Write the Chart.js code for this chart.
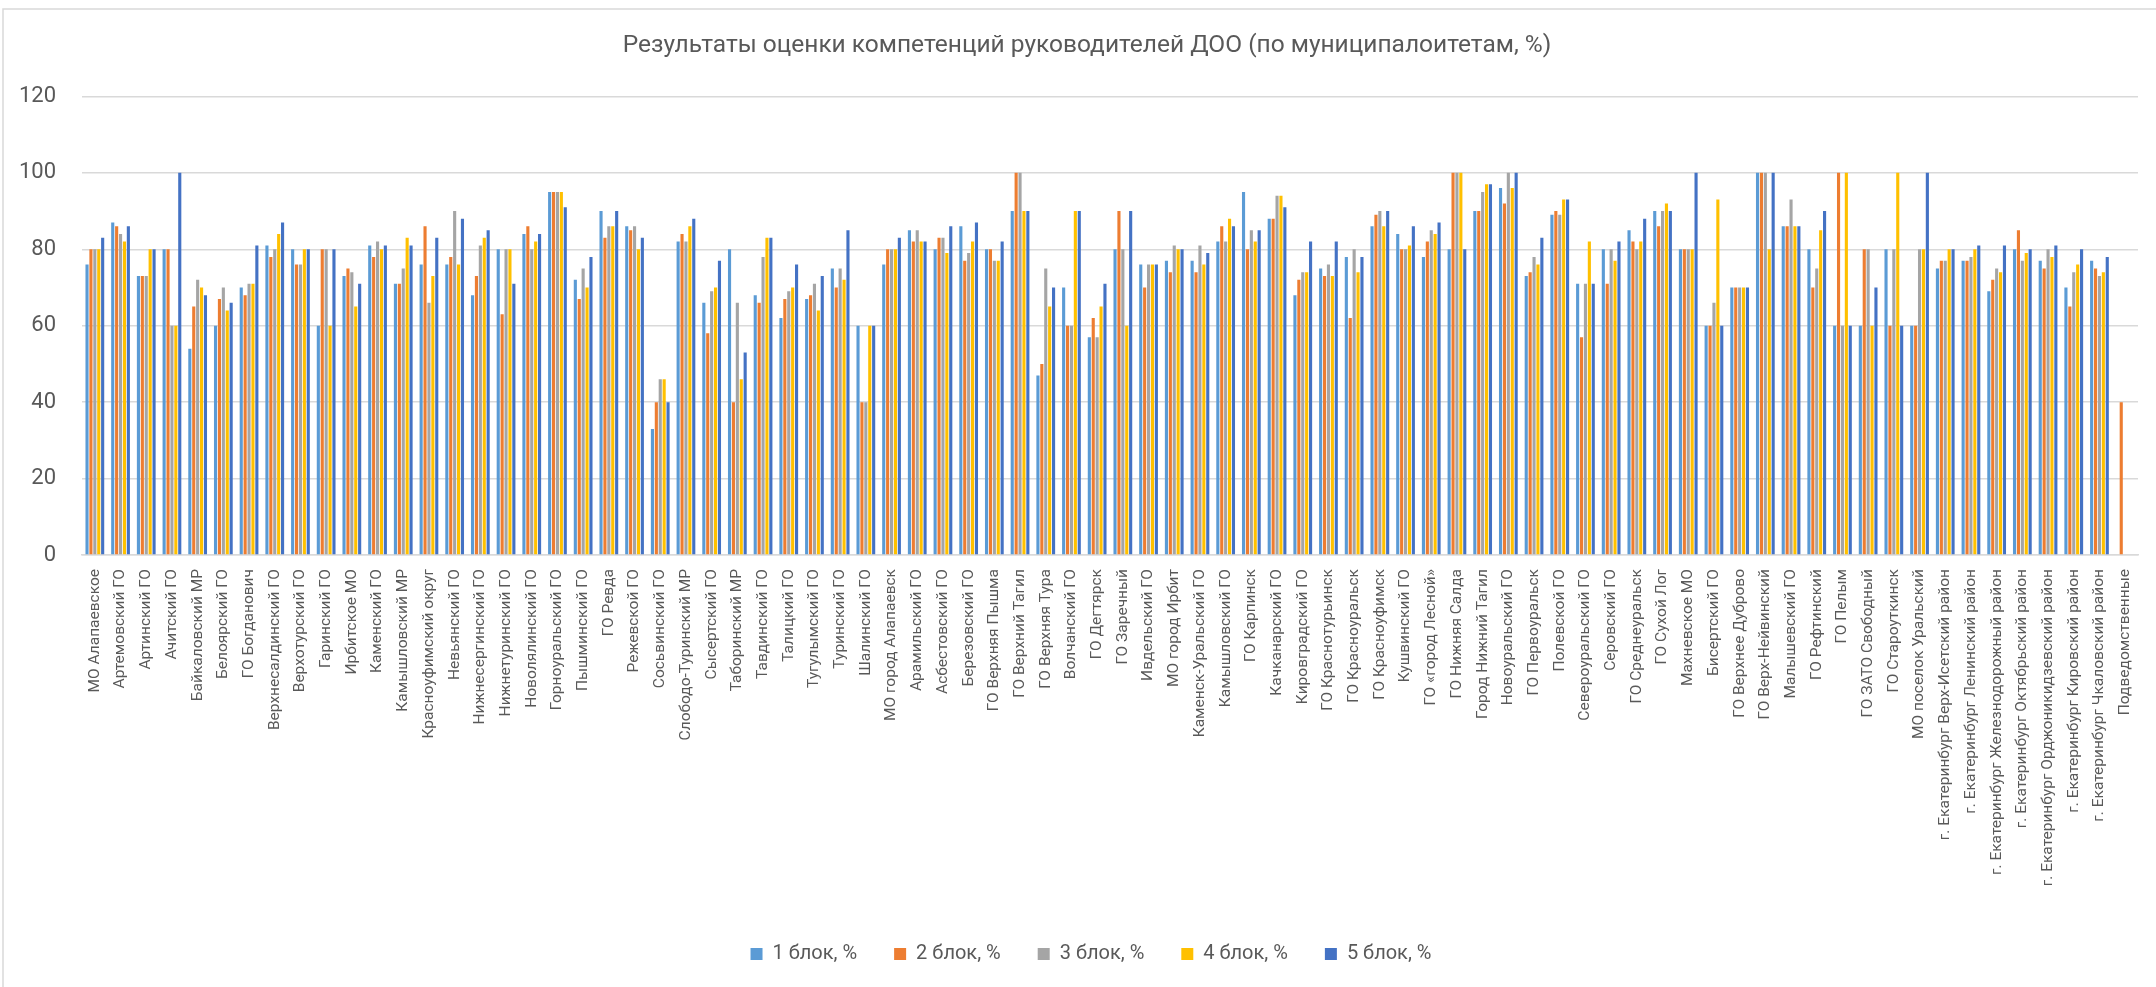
<!DOCTYPE html>
<html lang="ru">
<head>
<meta charset="utf-8">
<title>Результаты оценки компетенций руководителей ДОО</title>
<script src="https://cdn.jsdelivr.net/npm/chart.js@4.4.1/dist/chart.umd.min.js"></script>
<style>
    body { margin: 0; background: #fff; }
    #wrap { width: 2156px; height: 987px; }
</style>
</head>
<body>
<div id="wrap"><canvas id="chart" width="2156" height="987"></canvas></div>
<script>
// Муниципалитеты
const municipalities = [
    'МО Алапаевское', 'Артемовский ГО', 'Артинский ГО', 'Ачитский ГО', 'Байкаловский МР',
    'Белоярский ГО', 'ГО Богданович', 'Верхнесалдинский ГО', 'Верхотурский ГО', 'Гаринский ГО',
    'Ирбитское МО', 'Каменский ГО', 'Камышловский МР', 'Красноуфимский округ', 'Невьянский ГО',
    'Нижнесергинский ГО', 'Нижнетуринский ГО', 'Новолялинский ГО', 'Горноуральский ГО', 'Пышминский ГО',
    'ГО Ревда', 'Режевской ГО', 'Сосьвинский ГО', 'Слободо-Туринский МР', 'Сысертский ГО',
    'Таборинский МР', 'Тавдинский ГО', 'Талицкий ГО', 'Тугулымский ГО', 'Туринский ГО',
    'Шалинский ГО', 'МО город Алапаевск', 'Арамильский ГО', 'Асбестовский ГО', 'Березовский ГО',
    'ГО Верхняя Пышма', 'ГО Верхний Тагил', 'ГО Верхняя Тура', 'Волчанский ГО', 'ГО Дегтярск',
    'ГО Заречный', 'Ивдельский ГО', 'МО город Ирбит', 'Каменск-Уральский ГО', 'Камышловский ГО',
    'ГО Карпинск', 'Качканарский ГО', 'Кировградский ГО', 'ГО Краснотурьинск', 'ГО Красноуральск',
    'ГО Красноуфимск', 'Кушвинский ГО', 'ГО «город Лесной»', 'ГО Нижняя Салда', 'Город Нижний Тагил',
    'Новоуральский ГО', 'ГО Первоуральск', 'Полевской ГО', 'Североуральский ГО', 'Серовский ГО',
    'ГО Среднеуральск', 'ГО Сухой Лог', 'Махневское МО', 'Бисертский ГО', 'ГО Верхнее Дуброво',
    'ГО Верх-Нейвинский', 'Малышевский ГО', 'ГО Рефтинский', 'ГО Пелым', 'ГО ЗАТО Свободный',
    'ГО Староуткинск', 'МО поселок Уральский', 'г. Екатеринбург Верх-Исетский район',
    'г. Екатеринбург Ленинский район', 'г. Екатеринбург Железнодорожный район',
    'г. Екатеринбург Октябрьский район', 'г. Екатеринбург Орджоникидзевский район',
    'г. Екатеринбург Кировский район', 'г. Екатеринбург Чкаловский район', 'Подведомственные'
];

// Значения по блокам, %
const block1 = [
    76, 87, 73, 80, 54, 60, 70, 81, 80, 60,
    73, 81, 71, 76, 76, 68, 80, 84, 95, 72,
    90, 86, 33, 82, 66, 80, 68, 62, 67, 75,
    60, 76, 85, 80, 86, 80, 90, 47, 70, 57,
    80, 76, 77, 77, 82, 95, 88, 68, 75, 78,
    86, 84, 78, 80, 90, 96, 73, 89, 71, 80,
    85, 90, 80, 60, 70, 100, 86, 80, 60, 60,
    80, 60, 75, 77, 69, 80, 77, 70, 77, null
];
const block2 = [
    80, 86, 73, 80, 65, 67, 68, 78, 76, 80,
    75, 78, 71, 86, 78, 73, 63, 86, 95, 67,
    83, 85, 40, 84, 58, 40, 66, 67, 68, 70,
    40, 80, 82, 83, 77, 80, 100, 50, 60, 62,
    90, 70, 74, 74, 86, 80, 88, 72, 73, 62,
    89, 80, 82, 100, 90, 92, 74, 90, 57, 71,
    82, 86, 80, 60, 70, 100, 86, 70, 100, 80,
    60, 60, 77, 77, 72, 85, 75, 65, 75, 40
];
const block3 = [
    80, 84, 73, 60, 72, 70, 71, 80, 76, 80,
    74, 82, 75, 66, 90, 81, 80, 80, 95, 75,
    86, 86, 46, 82, 69, 66, 78, 69, 71, 75,
    40, 80, 85, 83, 79, 77, 100, 75, 60, 57,
    80, 76, 81, 81, 82, 85, 94, 74, 76, 80,
    90, 80, 85, 100, 95, 100, 78, 89, 71, 80,
    80, 90, 80, 66, 70, 100, 93, 75, 60, 80,
    80, 80, 77, 78, 75, 77, 80, 74, 73, null
];
const block4 = [
    80, 82, 80, 60, 70, 64, 71, 84, 80, 60,
    65, 80, 83, 73, 76, 83, 80, 82, 95, 70,
    86, 80, 46, 86, 70, 46, 83, 70, 64, 72,
    60, 80, 82, 79, 82, 77, 90, 65, 90, 65,
    60, 76, 80, 76, 88, 82, 94, 74, 73, 74,
    86, 81, 84, 100, 97, 96, 76, 93, 82, 77,
    82, 92, 80, 93, 70, 80, 86, 85, 100, 60,
    100, 80, 80, 80, 74, 79, 78, 76, 74, null
];
const block5 = [
    83, 86, 80, 100, 68, 66, 81, 87, 80, 80,
    71, 81, 81, 83, 88, 85, 71, 84, 91, 78,
    90, 83, 40, 88, 77, 53, 83, 76, 73, 85,
    60, 83, 82, 86, 87, 82, 90, 70, 90, 71,
    90, 76, 80, 79, 86, 85, 91, 82, 82, 78,
    90, 86, 87, 80, 97, 100, 83, 93, 71, 82,
    88, 90, 100, 60, 70, 100, 86, 90, 60, 70,
    60, 100, 80, 81, 81, 80, 81, 80, 78, null
];

const seriesNames = ['1 блок, %', '2 блок, %', '3 блок, %', '4 блок, %', '5 блок, %'];
const seriesColors = ['#5B9BD5', '#ED7D31', '#A5A5A5', '#FFC000', '#4472C4'];
const yTicks = [0, 20, 40, 60, 80, 100, 120];

const FONT = 'Roboto, "Noto Sans", sans-serif';
const TEXT_COLOR = '#595959';

// Рамка области диаграммы (левая и верхняя границы)
const framePlugin = {
    id: 'frame',
    afterLayout(chart) {
        // заголовок и легенда в оригинале чуть смещены вправо
        if (chart.titleBlock) chart.titleBlock.left += 28;
        if (chart.legend) chart.legend.left += 36;
    },
    beforeDraw(chart) {
        const c = chart.ctx;
        c.save();
        c.fillStyle = '#fff';
        c.fillRect(0, 0, chart.width, chart.height);
        c.strokeStyle = '#d9d9d9';
        c.lineWidth = 1.5;
        c.beginPath();
        c.moveTo(3, chart.height);
        c.lineTo(3, 9);
        c.lineTo(chart.width, 9);
        c.stroke();
        c.restore();
    }
};

function createBlocksChart(canvasId) {
    const ctx = document.getElementById(canvasId);
    if (!ctx) return;

    const values = [block1, block2, block3, block4, block5];

    new Chart(ctx, {
        type: 'bar',
        data: {
            labels: municipalities,
            datasets: values.map((v, i) => ({
                label: seriesNames[i],
                data: v,
                backgroundColor: seriesColors[i],
                borderWidth: 0,
                categoryPercentage: 0.76,
                barPercentage: 0.8
            }))
        },
        options: {
            responsive: false,
            animation: false,
            layout: {
                padding: { left: 8, right: 18, top: 0, bottom: 13 }
            },
            plugins: {
                title: {
                    display: true,
                    text: 'Результаты оценки компетенций руководителей ДОО (по муниципалоитетам, %)',
                    color: TEXT_COLOR,
                    font: { family: FONT, size: 24.5, weight: 'normal' },
                    padding: { top: 31, bottom: 36 }
                },
                legend: {
                    position: 'bottom',
                    labels: {
                        color: TEXT_COLOR,
                        font: { family: FONT, size: 20 },
                        boxWidth: 12,
                        boxHeight: 12,
                        padding: 37
                    }
                },
                tooltip: { enabled: false }
            },
            scales: {
                x: {
                    afterFit(scale) {
                        scale.height = 352;
                    },
                    grid: { display: false },
                    border: { display: true, color: '#d9d9d9', width: 1.5 },
                    ticks: {
                        autoSkip: false,
                        minRotation: 90,
                        maxRotation: 90,
                        padding: 6,
                        color: TEXT_COLOR,
                        font: { family: FONT, size: 15.5 }
                    }
                },
                y: {
                    min: 0,
                    max: 120,
                    afterBuildTicks(scale) {
                        scale.ticks = yTicks.map(v => ({ value: v }));
                    },
                    afterFit(scale) {
                        scale.width = 74;
                    },
                    grid: { color: '#d9d9d9', lineWidth: 1.5, drawTicks: false },
                    border: { display: false },
                    ticks: {
                        padding: 26,
                        color: TEXT_COLOR,
                        font: { family: FONT, size: 22 }
                    }
                }
            }
        },
        plugins: [framePlugin]
    });
}

createBlocksChart('chart');
</script>
</body>
</html>
